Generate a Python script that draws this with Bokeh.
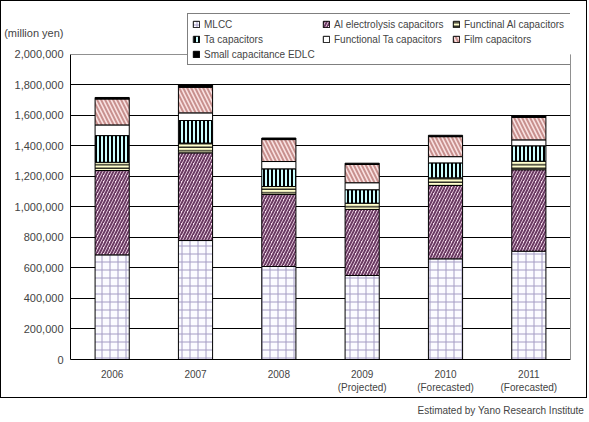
from bokeh.plotting import figure
from bokeh.layouts import column, row
from bokeh.models import (Legend, LegendItem, NumeralTickFormatter, FixedTicker,
                          LinearAxis, Grid, ColumnDataSource, Div)
from bokeh.embed import file_html
from bokeh.resources import INLINE

years = ["2006", "2007", "2008", "2009", "2010", "2011"]
notes = ["", "", "", "(Projected)", "(Forecasted)", "(Forecasted)"]

mlcc = [686000, 780000, 610000, 551000, 660000, 710000]
al_elec = [553000, 575000, 472000, 433000, 481000, 534000]
func_al = [54000, 64000, 52000, 41000, 50000, 56000]
ta_cap = [175000, 148000, 116000, 88000, 98000, 101000]
func_ta = [70000, 50000, 48000, 46000, 41000, 39000]
film = [170000, 168000, 144000, 120000, 131000, 148000]
edlc = [10000, 15000, 10000, 8000, 9000, 9000]

series_names = ["MLCC", "Al electrolysis capacitors", "Functinal Al capacitors",
                "Ta capacitors", "Functional Ta capacitors", "Film capacitors",
                "Small capacitance EDLC"]
y_ticks = [0, 200000, 400000, 600000, 800000, 1000000, 1200000, 1400000,
           1600000, 1800000, 2000000]
unit_label = "(million yen)"
source_note = "Estimated by Yano Research Institute"

# layout constants (pixels / axis extents)
Y_MAX = 2000000
Y_TOP = 2321000        # frame extends above the 2,000,000 line to hold the legend
UNIT_POS = 2140000     # vertical position of the unit caption on the y axis
FONT = "Liberation Sans"

factors = [y + ("\n" + n if n else "") for y, n in zip(years, notes)]
keys = ["mlcc", "al_elec", "func_al", "ta_cap", "func_ta", "film", "edlc"]
src = ColumnDataSource(dict(x=factors, mlcc=mlcc, al_elec=al_elec, func_al=func_al,
                            ta_cap=ta_cap, func_ta=func_ta, film=film, edlc=edlc))

p = figure(x_range=factors, y_range=(0, Y_TOP), width=585, height=396,
           output_backend="svg", toolbar_location=None,
           min_border_left=67, min_border_right=16, min_border_top=4,
           min_border_bottom=38)

fills = ["#fbfbff", "#ffe8f6", "#ffffcc", "#ccffff", "#ffffff", "#f9e2e2", "#000000"]
hatches = ["cross", "right_diagonal_line", "horizontal_line", "vertical_line", None,
           "left_diagonal_line", None]
hcolors = ["#a49cc4", "#6a3a62", "#000000", "#000000", "#000000", "#c8908e", "#000000"]
hscales = [8, 6, 3.5, 4, 8, 8, 8]
hweights = [1, 2, 1.2, 2, 1, 2, 1]

rs = p.vbar_stack(keys, x="x", width=0.41, source=src,
                  fill_color=fills, hatch_pattern=hatches, hatch_color=hcolors,
                  hatch_scale=hscales, hatch_weight=hweights,
                  line_color="black", line_width=1)

items = [LegendItem(label=n, renderers=[r]) for n, r in zip(series_names, rs)]
legend = Legend(items=items, orientation="horizontal", ncols=3,
                location=(117, 294), border_line_color="black", border_line_width=1,
                background_fill_color="white", background_fill_alpha=1,
                label_text_font=FONT, label_text_font_size="10px",
                glyph_width=8, glyph_height=8, label_height=12, label_width=115,
                label_standoff=4, spacing=3, padding=4, margin=0)
p.add_layout(legend, "center")

# primary left axis: line only, from 0 to 2,000,000
ax0 = p.yaxis[0]
ax0.ticker = FixedTicker(ticks=[])
ax0.bounds = (0, Y_MAX)
ax0.axis_line_color = "black"
ax0.major_tick_out = 0
ax0.major_tick_in = 0
ax0.minor_tick_out = 0
ax0.minor_tick_in = 0
ax0.minor_tick_line_color = None
ax0.major_label_standoff = 0

# labels axis (tick labels and unit caption)
ax1 = LinearAxis(ticker=FixedTicker(ticks=y_ticks + [UNIT_POS]),
                 formatter=NumeralTickFormatter(format="0,0"),
                 major_label_overrides={UNIT_POS: unit_label},
                 axis_line_color=None, major_tick_line_color=None,
                 minor_tick_line_color=None, major_tick_out=0, major_tick_in=0,
                 minor_tick_out=0, minor_tick_in=0, major_label_standoff=7,
                 major_label_text_font=FONT, major_label_text_font_size="11px")
p.add_layout(ax1, "left")

# right gray border line of the plot area
ax_r = LinearAxis(ticker=FixedTicker(ticks=[]), bounds=(0, Y_MAX),
                  axis_line_color="#909090", major_tick_line_color=None,
                  minor_tick_line_color=None, major_tick_out=0, minor_tick_out=0,
                  major_label_standoff=0)
p.add_layout(ax_r, "right")

p.xaxis.major_label_text_font = FONT
p.xaxis.major_label_text_font_size = "10px"
p.xaxis.major_tick_line_color = None
p.xaxis.major_tick_out = 0
p.xaxis.minor_tick_out = 0
p.xaxis.major_label_standoff = 9
p.xaxis.axis_line_color = "black"

p.ygrid.ticker = FixedTicker(ticks=y_ticks[1:-1])
p.ygrid.grid_line_color = "black"
p.xgrid.grid_line_color = None
top_grid = Grid(dimension=1, ticker=FixedTicker(ticks=[Y_MAX]), bounds=(-1, Y_TOP + 1),
                grid_line_color="#909090")
p.add_layout(top_grid, "center")
p.outline_line_color = None

# source note below the chart box
p2 = figure(width=587, height=23, output_backend="svg", toolbar_location=None,
            min_border_left=0, min_border_right=0, min_border_top=17,
            min_border_bottom=0, x_range=(0, 1), y_range=(0, 1))
p2.title.text = source_note
p2.title.align = "left"
p2.title.offset = 417
p2.title.text_font = FONT
p2.title.text_font_size = "10px"
p2.title.text_font_style = "normal"
p2.title.standoff = 0
p2.axis.visible = False
p2.grid.visible = False
p2.outline_line_color = None


def edge(w, h):
    return Div(text="", width=w, height=h, margin=0,
               styles={"background-color": "black"})


box = column(edge(587, 1),
             row(edge(1, 396), p, edge(1, 396), spacing=0),
             edge(587, 1), spacing=0)
layout = column(box, p2, spacing=0)

open("out.html", "w").write(file_html(layout, INLINE))
